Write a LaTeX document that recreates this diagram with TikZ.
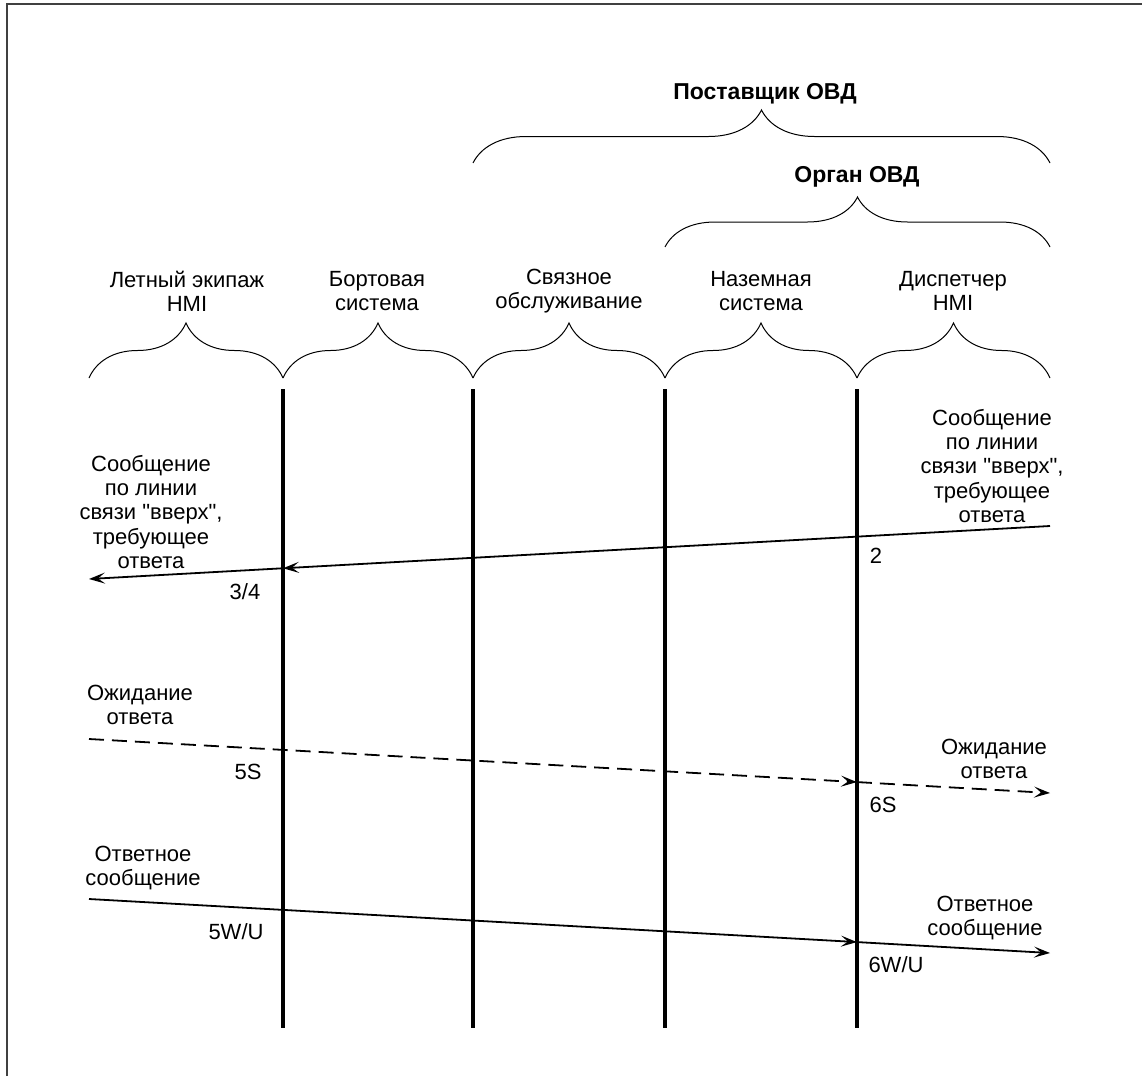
\documentclass[tikz,border=0pt]{standalone}
\usepackage{fontspec}
\setmainfont{Liberation Sans}
\usetikzlibrary{arrows.meta,decorations.pathreplacing}

\begin{document}
\begin{tikzpicture}[x=1pt, y=-1pt, line width=1pt,
  lbl/.style={align=center, font=\fontsize{22}{24.3}\selectfont, inner sep=0pt},
  hdr/.style={font=\fontsize{23}{25}\selectfont\bfseries, inner sep=0pt},
  num/.style={font=\fontsize{22}{24}\selectfont, inner sep=0pt},
  grp/.style={decorate, decoration={brace, amplitude=#1}},
  life/.style={line width=4pt},
  msg/.style={line width=1.8pt, -{Stealth[length=16pt, width=11pt, inset=7pt]}}]
  \useasboundingbox (0,0) rectangle (1142,1076);
  % рамка
  \draw[line width=1.5pt, black!75] (7,1076) -- (7,4) -- (1142,4);
  % линии жизни
  \foreach \x/\n in {283/1,473/2,665/3,857/4} {
    \coordinate (t\n) at (\x,389);
    \coordinate (b\n) at (\x,1028);
    \draw[life] (t\n) -- (b\n);
  }
  % фигурные скобки
  \foreach \a/\b in {89/283,283/473,473/665,665/857,857/1050}
    \draw[grp=55] (\a,378) -- (\b,378);
  \draw[grp=53] (473,163) -- (1050,163);
  \draw[grp=50] (665,247) -- (1050,247);
  \node[hdr] (provider) at (765,94) {Поставщик ОВД};
  \node[hdr] (unit) at (857,177) {Орган ОВД};
  \node[lbl] (crew) at (187,291) {Летный экипаж\\HMI};
  \node[lbl] (avionics) at (377,291) {Бортовая\\система};
  \node[lbl] (comsvc) at (569,291) {Связное\\обслуживание};
  \node[lbl] (ground) at (761,291) {Наземная\\система};
  \node[lbl] (atc) at (953,291) {Диспетчер\\HMI};
  % сообщение вверх
  \coordinate (a1s) at (1050,526);
  \coordinate (a1e) at (89,579);
  \coordinate (a1m) at (intersection of a1s--a1e and t1--b1);
  \draw[msg] (a1s) -- (a1m);
  \draw[msg] (a1m) -- (a1e);
  \node[lbl] (msgR) at (992,466) {Сообщение\\по линии\\связи \textquotedbl вверх\textquotedbl,\\требующее\\ответа};
  \node[lbl] (msgL) at (151,512) {Сообщение\\по линии\\связи \textquotedbl вверх\textquotedbl,\\требующее\\ответа};
  \node[num] (n2) at (876,556) {2};
  \node[num] (n34) at (245,592) {3/4};
  % ожидание ответа
  \coordinate (a2s) at (89,739);
  \coordinate (a2e) at (1050,793);
  \coordinate (a2m) at (intersection of a2s--a2e and t4--b4);
  \draw[msg, dash pattern=on 15pt off 8pt] (a2s) -- (a2m);
  \draw[msg, dash pattern=on 15pt off 8pt] (a2m) -- (a2e);
  \node[lbl] (waitL) at (140,705) {Ожидание\\ответа};
  \node[lbl] (waitR) at (994,759) {Ожидание\\ответа};
  \node[num] (n5s) at (248,772) {5S};
  \node[num] (n6s) at (883,805) {6S};
  % ответное сообщение
  \coordinate (a3s) at (89,899);
  \coordinate (a3e) at (1050,953);
  \coordinate (a3m) at (intersection of a3s--a3e and t4--b4);
  \draw[msg] (a3s) -- (a3m);
  \draw[msg] (a3m) -- (a3e);
  \node[lbl] (respL) at (143,868) {Ответное\\сообщение};
  \node[lbl] (respR) at (985,918) {Ответное\\сообщение};
  \node[num] (n5wu) at (236,932) {5W/U};
  \node[num] (n6wu) at (896,965) {6W/U};
\end{tikzpicture}
\end{document}
